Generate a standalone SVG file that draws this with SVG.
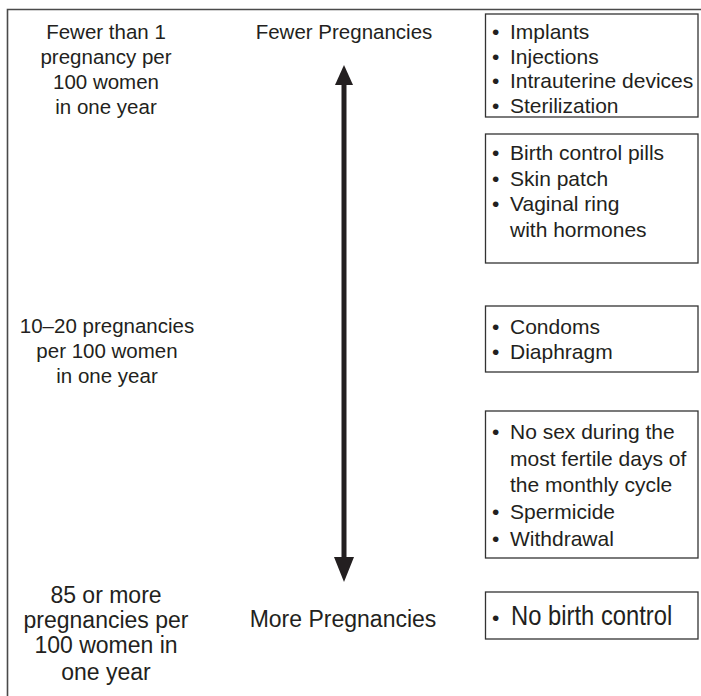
<svg xmlns="http://www.w3.org/2000/svg" width="701" height="696" viewBox="0 0 701 696">
<style>
  text { font-family: "Liberation Sans", Arial, sans-serif; fill: #231f20; }
  .lab { font-size: 20.5px; text-anchor: middle; }
  .big { font-size: 23px; text-anchor: middle; }
  .item { font-size: 21px; }
  .item2 { font-size: 28px; }
  .box { fill: #ffffff; stroke: #333333; stroke-width: 1.3; }
  .frame { fill: none; stroke: #4a4a4a; stroke-width: 1.6; }
  .arrow { fill: #231f20; stroke: none; }
</style>
<rect x="0" y="0" width="701" height="696" fill="#ffffff"/>
<path class="frame" d="M7.5,696 V9.5 H701"/>

<g id="label-fewer-than-1">
  <text class="lab" x="106" y="39">Fewer than 1</text>
  <text class="lab" x="106" y="64">pregnancy per</text>
  <text class="lab" x="106" y="89">100 women</text>
  <text class="lab" x="106" y="114">in one year</text>
</g>
<g id="label-10-20">
  <text class="lab" x="107" y="333">10–20 pregnancies</text>
  <text class="lab" x="107" y="358">per 100 women</text>
  <text class="lab" x="107" y="383">in one year</text>
</g>
<g id="label-85-or-more">
  <text class="big" x="106" y="603">85 or more</text>
  <text class="big" x="106" y="628">pregnancies per</text>
  <text class="big" x="106" y="653">100 women in</text>
  <text class="big" x="106" y="680">one year</text>
</g>

<g id="fewer-pregnancies">
  <text class="lab" x="344" y="39">Fewer Pregnancies</text>
</g>
<g id="more-pregnancies">
  <text class="big" x="343" y="627">More Pregnancies</text>
</g>

<g id="connectors">
  <rect class="arrow" x="341.5" y="83" width="5" height="475"/>
  <polygon class="arrow" points="344,65 335,85 353,85"/>
  <polygon class="arrow" points="334,557 354,557 344,582"/>
</g>

<g id="box-most-effective">
  <rect class="box" x="485.5" y="14" width="212.5" height="103"/>
  <text class="item"><tspan x="492" y="39">•</tspan><tspan x="510" y="39">Implants</tspan></text>
  <text class="item"><tspan x="492" y="63.5">•</tspan><tspan x="510" y="63.5">Injections</tspan></text>
  <text class="item"><tspan x="492" y="88">•</tspan><tspan x="510" y="88">Intrauterine devices</tspan></text>
  <text class="item"><tspan x="492" y="112.5">•</tspan><tspan x="510" y="112.5">Sterilization</tspan></text>
</g>
<g id="box-hormonal">
  <rect class="box" x="485.5" y="134" width="212.5" height="129"/>
  <text class="item"><tspan x="492" y="160">•</tspan><tspan x="510" y="160">Birth control pills</tspan></text>
  <text class="item"><tspan x="492" y="185.5">•</tspan><tspan x="510" y="185.5">Skin patch</tspan></text>
  <text class="item"><tspan x="492" y="211">•</tspan><tspan x="510" y="211">Vaginal ring</tspan></text>
  <text class="item"><tspan x="510" y="237">with hormones</tspan></text>
</g>
<g id="box-barrier">
  <rect class="box" x="485.5" y="306" width="212.5" height="66"/>
  <text class="item"><tspan x="492" y="333.5">•</tspan><tspan x="510" y="333.5">Condoms</tspan></text>
  <text class="item"><tspan x="492" y="359">•</tspan><tspan x="510" y="359">Diaphragm</tspan></text>
</g>
<g id="box-least-effective">
  <rect class="box" x="485.5" y="411" width="212.5" height="147"/>
  <text class="item"><tspan x="492" y="439">•</tspan><tspan x="510" y="439">No sex during the</tspan></text>
  <text class="item"><tspan x="510" y="465.5">most fertile days of</tspan></text>
  <text class="item"><tspan x="510" y="492">the monthly cycle</tspan></text>
  <text class="item"><tspan x="492" y="519">•</tspan><tspan x="510" y="519">Spermicide</tspan></text>
  <text class="item"><tspan x="492" y="545.5">•</tspan><tspan x="510" y="545.5">Withdrawal</tspan></text>
</g>
<g id="box-no-control">
  <rect class="box" x="485.5" y="592" width="212.5" height="47"/>
  <text class="item" x="492" y="625">•</text>
  <text class="item2" transform="translate(511,625) scale(0.85,1)" x="0" y="0">No birth control</text>
</g>
</svg>
